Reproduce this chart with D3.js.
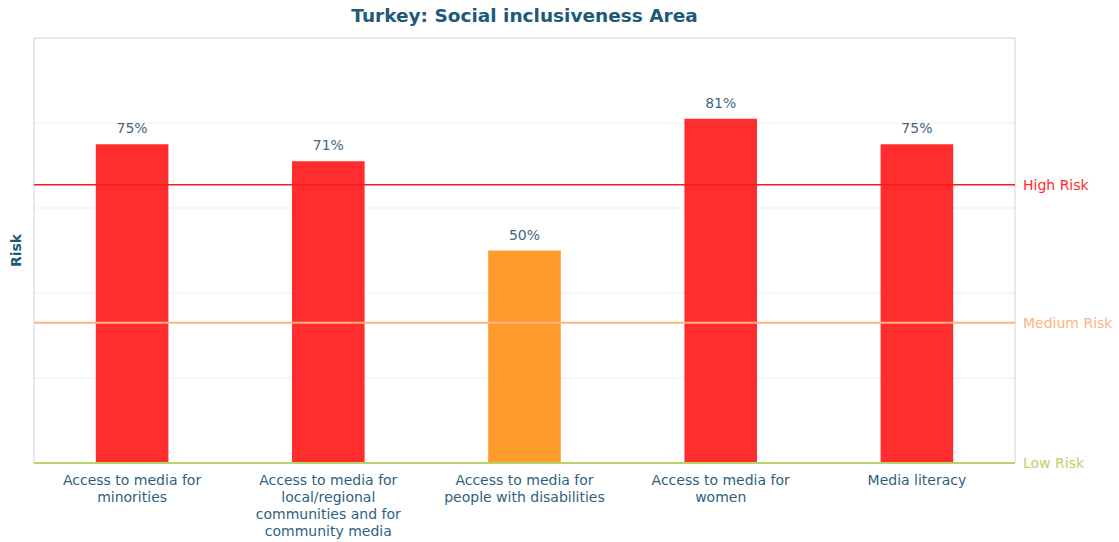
<!DOCTYPE html>
<html lang="en">
<head>
<meta charset="UTF-8">
<title>Turkey: Social inclusiveness Area</title>
<script src="https://d3js.org/d3.v7.min.js"></script>
<style>
  body { margin: 0; background: #fff; }
  svg { font-family: "DejaVu Sans", Verdana, sans-serif; }
</style>
</head>
<body>
<div id="chart"></div>
<script>
// data
const categories = [
  "Access to media for\nminorities",
  "Access to media for\nlocal/regional\ncommunities and for\ncommunity media",
  "Access to media for\npeople with disabilities",
  "Access to media for\nwomen",
  "Media literacy"
];
const values = [75, 71, 50, 81, 75];
const barColors = ["#ff2d2d", "#ff2d2d", "#ff9b2d", "#ff2d2d", "#ff2d2d"];
const riskLabels = ["High Risk", "Medium Risk", "Low Risk"];
const riskLevels = [65.5, 33, 0];
const riskColors = ["#ff1a1a", "#ffb383", "#b5d46a"];
const gridTicks = [20, 40, 60, 80, 100];

const width = 1119, height = 542;
const margin = {top: 38, right: 104, bottom: 79, left: 34};

const svg = d3.select("#chart").append("svg")
    .attr("width", width)
    .attr("height", height);

const x = d3.scaleBand()
    .domain(categories)
    .range([margin.left, width - margin.right])
    .padding(0);

const y = d3.scaleLinear()
    .domain([0, 100])
    .range([height - margin.bottom, margin.top]);

// grid lines
svg.append("g")
  .selectAll("line")
  .data(gridTicks)
  .join("line")
    .attr("x1", margin.left)
    .attr("x2", width - margin.right)
    .attr("y1", d => y(d))
    .attr("y2", d => y(d))
    .attr("stroke", d => d === 100 ? "#c6d6e3" : "#e9edf0")
    .attr("stroke-width", 1);

// left and right frame
svg.append("line")
    .attr("x1", margin.left).attr("x2", margin.left)
    .attr("y1", y(100)).attr("y2", y(0))
    .attr("stroke", "#c6d6e3");
svg.append("line")
    .attr("x1", width - margin.right).attr("x2", width - margin.right)
    .attr("y1", y(100)).attr("y2", y(0))
    .attr("stroke", "#c6d6e3");

// bars
const barW = x.bandwidth() * 0.37;
svg.append("g")
  .selectAll("rect")
  .data(values)
  .join("rect")
    .attr("x", (d, i) => x(categories[i]) + x.bandwidth() / 2 - barW / 2)
    .attr("y", d => y(d))
    .attr("width", barW)
    .attr("height", d => y(0) - y(d))
    .attr("fill", (d, i) => barColors[i]);

// value labels
svg.append("g")
  .selectAll("text")
  .data(values)
  .join("text")
    .attr("x", (d, i) => x(categories[i]) + x.bandwidth() / 2)
    .attr("y", d => y(d) - 11)
    .attr("text-anchor", "middle")
    .attr("font-size", 14)
    .attr("fill", "#3f6683")
    .text(d => d + "%");

// risk threshold lines
const risk = svg.append("g")
  .selectAll("g")
  .data(riskLevels)
  .join("g");
risk.append("line")
    .attr("x1", margin.left)
    .attr("x2", width - margin.right)
    .attr("y1", d => y(d))
    .attr("y2", d => y(d))
    .attr("stroke", (d, i) => riskColors[i])
    .attr("stroke-width", (d, i) => i === 0 ? 1.5 : 2);
risk.append("text")
    .attr("x", width - margin.right + 8)
    .attr("y", d => y(d))
    .attr("dy", "0.35em")
    .attr("font-size", 14)
    .attr("fill", (d, i) => i === 0 ? "#ff2a2a" : riskColors[i])
    .text((d, i) => riskLabels[i]);

// category labels
const xAxis = svg.append("g");
categories.forEach(c => {
  const t = xAxis.append("text")
      .attr("x", x(c) + x.bandwidth() / 2)
      .attr("y", height - margin.bottom + 22)
      .attr("text-anchor", "middle")
      .attr("font-size", 14)
      .attr("fill", "#2f5f80");
  c.split("\n").forEach((line, j) => {
    t.append("tspan")
        .attr("x", x(c) + x.bandwidth() / 2)
        .attr("dy", j === 0 ? 0 : 17)
        .text(line);
  });
});

// title
svg.append("text")
    .attr("x", (margin.left + width - margin.right) / 2)
    .attr("y", 22)
    .attr("text-anchor", "middle")
    .attr("font-size", 18.5)
    .attr("font-weight", "bold")
    .attr("fill", "#1e5a78")
    .text("Turkey: Social inclusiveness Area");

// y label
svg.append("text")
    .attr("transform", `translate(21,${(margin.top + height - margin.bottom) / 2}) rotate(-90)`)
    .attr("text-anchor", "middle")
    .attr("font-size", 14)
    .attr("font-weight", "bold")
    .attr("fill", "#1e5a78")
    .text("Risk");
</script>
</body>
</html>
